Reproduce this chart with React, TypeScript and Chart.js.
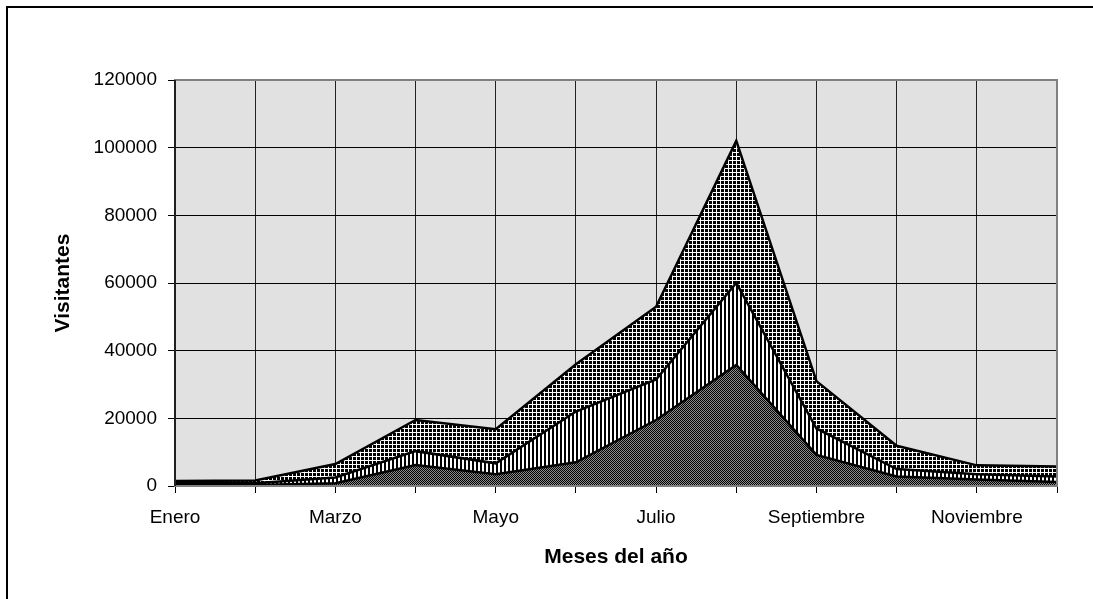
import React, { useEffect, useRef } from "react";
import { Chart, registerables } from "chart.js";

Chart.register(...registerables);

const meses = [
  "Enero", "Febrero", "Marzo", "Abril", "Mayo", "Junio",
  "Julio", "Agosto", "Septiembre", "Octubre", "Noviembre", "Diciembre",
];
// stacked series (bottom -> top)
const serieBaja = [300, 300, 800, 6200, 3500, 7000, 19500, 35800, 9200, 2800, 1900, 1200];
const serieMedia = [500, 500, 1700, 4100, 3200, 15000, 12000, 24200, 7800, 2200, 1600, 1600];
const serieAlta = [700, 800, 4000, 9200, 10100, 14000, 21500, 42000, 14000, 6900, 2600, 3000];
const yMin = 0;
const yMax = 120000;
const yStep = 20000;

function makePattern(kind: "dots" | "stripes" | "grid"): CanvasPattern | string {
  const c = document.createElement("canvas");
  const g = c.getContext("2d");
  if (!g) return "#444";
  if (kind === "dots") {
    c.width = 2; c.height = 2;
    g.fillStyle = "#000"; g.fillRect(0, 0, 2, 2);
    g.fillStyle = "#8a8a8a"; g.fillRect(1, 0, 1, 1); g.fillRect(0, 1, 1, 1);
  } else if (kind === "stripes") {
    c.width = 4; c.height = 4;
    g.fillStyle = "#fff"; g.fillRect(0, 0, 4, 4);
    g.fillStyle = "#000"; g.fillRect(0, 0, 2, 4);
  } else {
    c.width = 4; c.height = 4;
    g.fillStyle = "#000"; g.fillRect(0, 0, 4, 4);
    g.fillStyle = "#fff"; g.fillRect(0, 0, 4, 1); g.fillRect(0, 0, 1, 4);
  }
  const p = g.createPattern(c, "repeat");
  return p || "#444";
}

const framePlugin = {
  id: "frame",
  beforeDraw(chart: any) {
    const { ctx, chartArea: a } = chart;
    ctx.save();
    ctx.fillStyle = "#fff";
    ctx.fillRect(0, 0, chart.width, chart.height);
    ctx.fillStyle = "#e1e1e1";
    ctx.fillRect(a.left, a.top, a.right - a.left, a.bottom - a.top);
    ctx.restore();
  },
  afterDraw(chart: any) {
    const { ctx, chartArea: a } = chart;
    ctx.save();
    ctx.strokeStyle = "#808080";
    ctx.lineWidth = 2;
    ctx.strokeRect(a.left, a.top, a.right - a.left, a.bottom - a.top);
    ctx.strokeStyle = "#000";
    ctx.lineWidth = 1.5;
    ctx.beginPath();
    ctx.moveTo(a.left, a.top);
    ctx.lineTo(a.left, a.bottom);
    ctx.stroke();
    ctx.lineWidth = 2;
    ctx.strokeRect(7, 7, 3000, 3000);
    ctx.restore();
  },
};

export default function App() {
  const ref = useRef<HTMLCanvasElement | null>(null);

  useEffect(() => {
    if (!ref.current) return;
    const font = { family: "'Liberation Sans', Arial, sans-serif", size: 19 };
    const titleFont = { family: "'Liberation Sans', Arial, sans-serif", size: 21, weight: "bold" as const };
    const common = {
      fill: "-1" as const,
      borderColor: "#000",
      borderWidth: 2.5,
      pointRadius: 0,
      tension: 0,
    };
    const chart = new Chart(ref.current, {
      type: "line",
      data: {
        labels: meses,
        datasets: [
          { ...common, label: "Serie 1", data: serieBaja, fill: "origin", backgroundColor: makePattern("dots") as any },
          { ...common, label: "Serie 2", data: serieMedia, backgroundColor: makePattern("stripes") as any },
          { ...common, label: "Serie 3", data: serieAlta, backgroundColor: makePattern("grid") as any },
        ],
      },
      options: {
        animation: false,
        responsive: false,
        devicePixelRatio: 1,
        layout: { padding: { top: 80, right: 36, left: 0, bottom: 0 } },
        plugins: { legend: { display: false }, tooltip: { enabled: false } },
        scales: {
          x: {
            type: "category",
            offset: false,
            afterFit: (s: any) => { s.height = 113; },
            grid: { color: "#222", lineWidth: 1, tickLength: 7, tickColor: "#000", drawTicks: true },
            border: { display: false },
            ticks: {
              autoSkip: false,
              maxRotation: 0,
              padding: 13,
              color: "#000",
              font,
              callback: (_v: any, i: number) => (i % 2 === 0 ? meses[i] : ""),
            },
            title: { display: true, text: "Meses del año", color: "#000", font: titleFont, padding: { top: 0, bottom: 29.4 } },
          },
          y: {
            stacked: true,
            min: yMin,
            max: yMax,
            afterFit: (s: any) => { s.width = 175; },
            grid: { color: "#000", lineWidth: 1, tickLength: 7, tickColor: "#000" },
            border: { display: false },
            ticks: {
              stepSize: yStep,
              padding: 11,
              color: "#000",
              font,
              callback: (v: any) => String(v),
            },
            title: { display: true, text: "Visitantes", color: "#000", font: titleFont, padding: { top: 50.4, bottom: 0 } },
          },
        },
      },
      plugins: [framePlugin],
    });
    return () => chart.destroy();
  }, []);

  return (
    <canvas
      ref={ref}
      width={1093}
      height={599}
      style={{ position: "fixed", left: 0, top: 0, width: 1093, height: 599, display: "block" }}
    />
  );
}
